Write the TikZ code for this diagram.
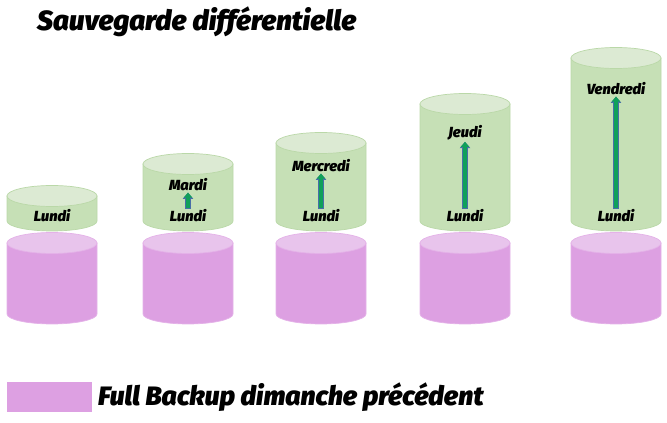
\documentclass[tikz,border=0pt]{standalone}
\usepackage{fontspec}
\setmainfont{Fira Sans}[BoldItalicFont={Fira Sans Black Italic}]
\usetikzlibrary{arrows.meta}
\definecolor{FullPink}{RGB}{221,160,226}
\definecolor{FullPinkTop}{RGB}{232,196,236}
\definecolor{FullEdge}{RGB}{228,178,232}
\definecolor{DiffGreen}{RGB}{198,224,182}
\definecolor{DiffGreenTop}{RGB}{220,234,211}
\definecolor{DiffEdge}{RGB}{186,216,168}
\definecolor{ArrGreen}{RGB}{16,160,90}
\definecolor{ArrBlue}{RGB}{72,110,168}
\newcommand{\lw}{0.6pt}
% drum: centre x, bottom y, top y, style prefix
\newcommand{\drum}[4]{%
  \filldraw[#4 body] (#1-45,#3) -- (#1-45,#2)
    arc[start angle=180, end angle=360, x radius=45, y radius=10] -- (#1+45,#3) -- cycle;
  \filldraw[#4 top] (#1,#3) ellipse [x radius=45, y radius=10.5];
}

\begin{document}
\begin{tikzpicture}[x=0.03cm, y=0.03cm,
  full body/.style={fill=FullPink, draw=FullEdge, line width=\lw},
  full top/.style={fill=FullPinkTop, draw=FullEdge, line width=\lw},
  diff body/.style={fill=DiffGreen, draw=DiffEdge, line width=\lw},
  diff top/.style={fill=DiffGreenTop, draw=DiffEdge, line width=\lw},
  day/.style={font=\bfseries\itshape\fontsize{12.5}{14}\selectfont, inner sep=1pt},
  big/.style={font=\bfseries\itshape\fontsize{23}{26}\selectfont, inner sep=0pt},
  since monday/.style={draw=ArrGreen, line width=3.6pt, -{Triangle[length=4.2pt,width=7pt]},
    preaction={draw=ArrBlue, line width=5pt, shorten <=-0.7pt, -{Triangle[length=5.4pt,width=8.8pt]}}}]
  \useasboundingbox (0,0) rectangle (667,423);

  % full backups
  \drum{52}{109}{180}{full}
  \drum{188}{109}{180}{full}
  \drum{321}{109}{180}{full}
  \drum{465}{109}{180}{full}
  \drum{616}{109}{180}{full}

  % differential parts
  \drum{52}{202}{227}{diff}
  \drum{188}{202}{259}{diff}
  \drum{321}{202}{280}{diff}
  \drum{465}{202}{319}{diff}
  \drum{616}{202}{365}{diff}

  \node[day] (lun1) at (52,207) {Lundi};
  \node[day] (lun2) at (188,207) {Lundi};
  \node[day] (lun3) at (321,207) {Lundi};
  \node[day] (lun4) at (465,207) {Lundi};
  \node[day] (lun5) at (616,207) {Lundi};

  \node[day] (mar2) at (188,238) {Mardi};
  \node[day] (mer3) at (321,257) {Mercredi};
  \node[day] (jeu4) at (465,290) {Jeudi};
  \node[day] (ven5) at (616,334) {Vendredi};

  \draw[since monday] (lun2) -- (mar2);
  \draw[since monday] (lun3) -- (mer3);
  \draw[since monday] (lun4) -- (jeu4);
  \draw[since monday] (lun5) -- (ven5);

  \node[big, font=\bfseries\itshape\fontsize{23.7}{26}\selectfont, anchor=west] (title) at (37,401) {Sauvegarde différentielle};

  \node[fill=FullPink, minimum width=2.55cm, minimum height=0.9cm, inner sep=0pt] (key) at (49.5,26) {};
  \node[big, font=\bfseries\itshape\fontsize{22.7}{26}\selectfont, anchor=west] (keytext) at (98,26) {Full Backup dimanche précédent};
\end{tikzpicture}
\end{document}
